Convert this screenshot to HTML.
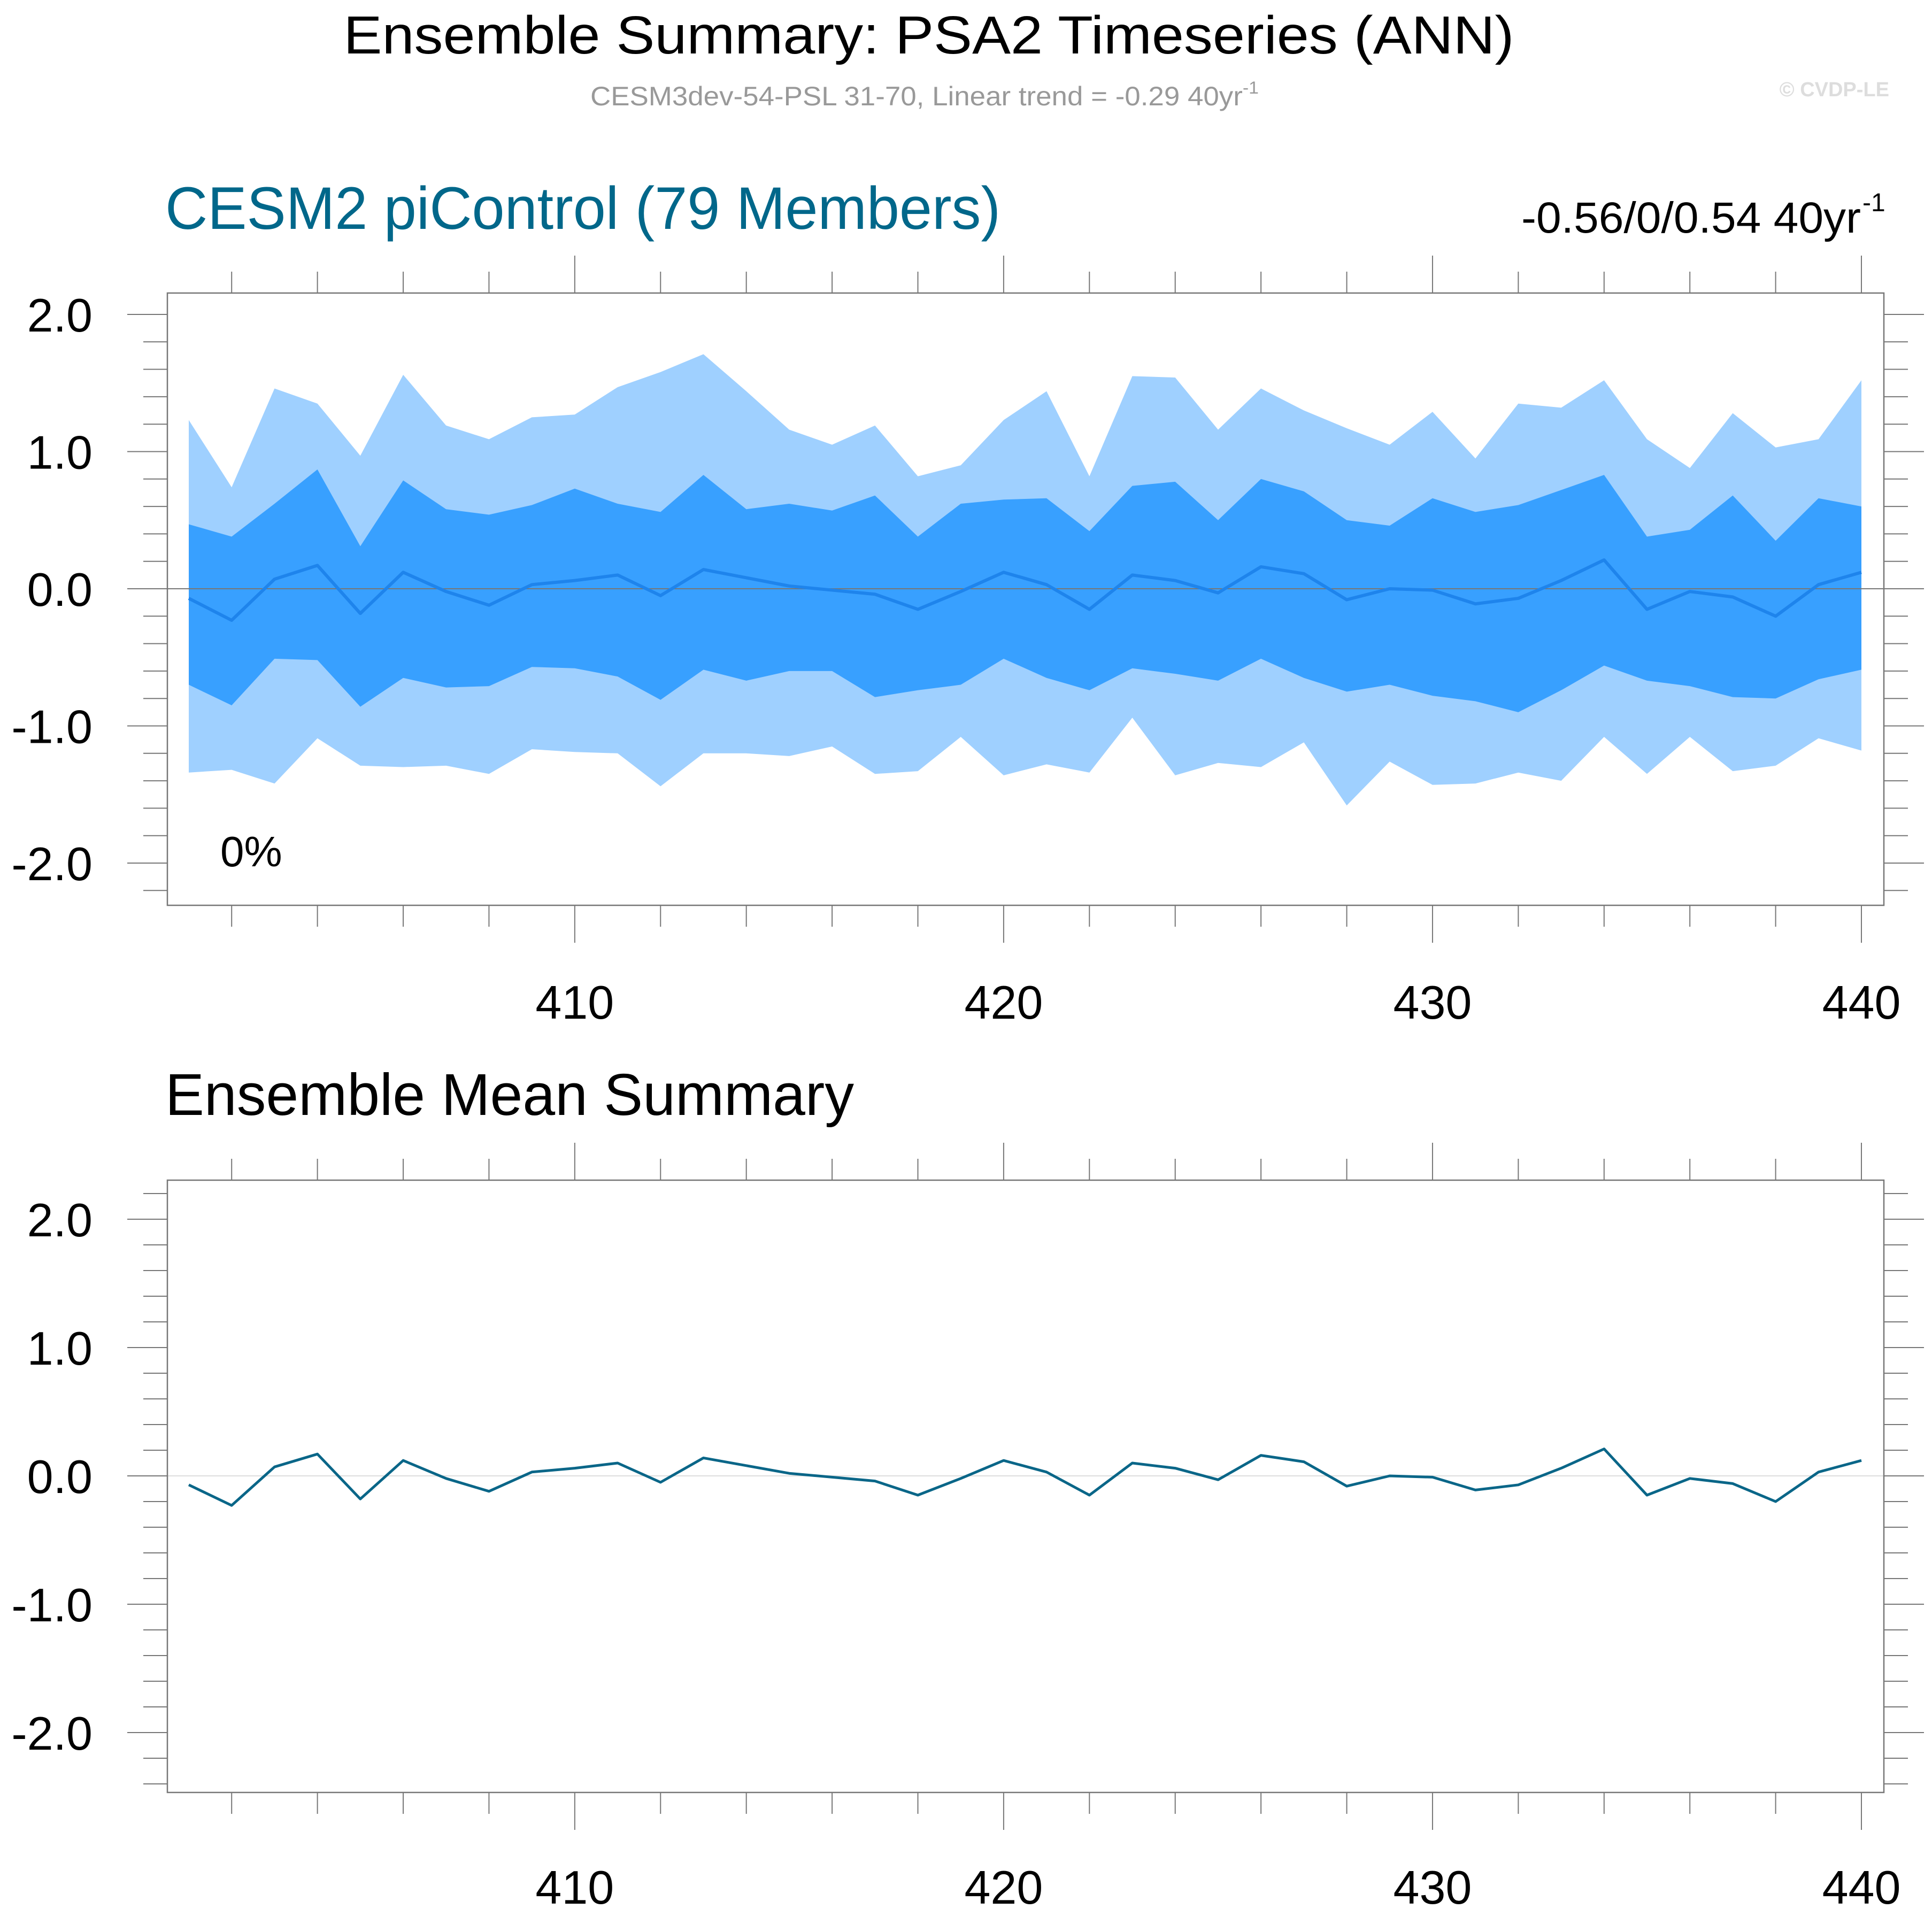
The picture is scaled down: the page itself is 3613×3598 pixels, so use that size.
<!DOCTYPE html>
<html><head><meta charset="utf-8"><style>html,body{margin:0;padding:0;background:#fff}svg{display:block}text{font-family:"Liberation Sans",sans-serif}</style></head>
<body>
<svg id="c" width="3613" height="3598" viewBox="0 0 3613 3598" xmlns="http://www.w3.org/2000/svg">
<text x="1737" y="100" font-size="100" text-anchor="middle" textLength="2189" lengthAdjust="spacingAndGlyphs">Ensemble Summary: PSA2 Timeseries (ANN)</text>
<text x="1104" y="197" font-size="50" fill="#999" textLength="1250" lengthAdjust="spacingAndGlyphs">CESM3dev-54-PSL 31-70, Linear trend = -0.29 40yr<tspan dy="-22" font-size="32">-1</tspan></text>
<text x="3533" y="180" font-size="38" font-weight="bold" fill="#ddd" text-anchor="end">© CVDP-LE</text>
<text x="309" y="428" font-size="112" fill="#00678a" textLength="1562" lengthAdjust="spacingAndGlyphs">CESM2 piControl (79 Members)</text>
<text x="3480" y="435" font-size="82" text-anchor="end" textLength="635" lengthAdjust="spacingAndGlyphs">-0.56/0/0.54 40yr</text>
<text x="3483" y="395" font-size="48">-1</text>
<text x="309" y="2085" font-size="110" textLength="1288" lengthAdjust="spacingAndGlyphs">Ensemble Mean Summary</text>
<g id="p1"></g>
<g id="p2"></g>
</svg>
<script>
const years = [];
for (let y = 401; y <= 440; y++) years.push(y);
const meanVals = [-0.07,-0.23,0.07,0.17,-0.18,0.12,-0.02,-0.12,0.03,0.06,0.10,-0.05,0.14,0.08,0.02,-0.01,-0.04,-0.15,-0.02,0.12,0.03,-0.15,0.10,0.06,-0.03,0.16,0.11,-0.08,0.0,-0.01,-0.11,-0.07,0.06,0.21,-0.15,-0.02,-0.06,-0.20,0.03,0.12];
const darkHi = [0.47,0.38,0.62,0.87,0.31,0.79,0.58,0.54,0.61,0.73,0.62,0.56,0.83,0.58,0.62,0.57,0.68,0.38,0.62,0.65,0.66,0.42,0.75,0.78,0.50,0.80,0.71,0.50,0.46,0.66,0.56,0.61,0.72,0.83,0.38,0.43,0.68,0.35,0.66,0.60];
const darkLo = [-0.70,-0.85,-0.51,-0.52,-0.86,-0.65,-0.72,-0.71,-0.57,-0.58,-0.64,-0.81,-0.59,-0.67,-0.60,-0.60,-0.79,-0.74,-0.70,-0.51,-0.65,-0.74,-0.58,-0.62,-0.67,-0.51,-0.65,-0.75,-0.70,-0.78,-0.82,-0.90,-0.74,-0.56,-0.67,-0.71,-0.79,-0.80,-0.66,-0.59];
const lightHi = [1.23,0.74,1.46,1.35,0.97,1.56,1.19,1.09,1.25,1.27,1.47,1.58,1.71,1.44,1.16,1.05,1.19,0.82,0.90,1.23,1.44,0.82,1.55,1.54,1.16,1.46,1.30,1.17,1.05,1.29,0.95,1.35,1.32,1.52,1.09,0.88,1.28,1.03,1.09,1.52];
const lightLo = [-1.34,-1.32,-1.42,-1.09,-1.29,-1.30,-1.29,-1.35,-1.17,-1.19,-1.20,-1.44,-1.20,-1.20,-1.22,-1.15,-1.35,-1.33,-1.08,-1.36,-1.28,-1.34,-0.94,-1.36,-1.27,-1.30,-1.12,-1.58,-1.26,-1.43,-1.42,-1.34,-1.40,-1.08,-1.35,-1.08,-1.33,-1.29,-1.09,-1.18];
const yTickVals = [-2, -1, 0, 1, 2];
const yTickLabels = ["-2.0", "-1.0", "0.0", "1.0", "2.0"];
const xTickVals = [410, 420, 430, 440];
const xTickLabels = ["410", "420", "430", "440"];

const NS = "http://www.w3.org/2000/svg";
function mk(parent, tag, attrs) {
  const e = document.createElementNS(NS, tag);
  for (const k in attrs) e.setAttribute(k, attrs[k]);
  parent.appendChild(e);
  return e;
}
const xs = v => 353 + (v - 401) * (3481 - 353) / 39;

function panel(g, top, bottom, y0, unit, xlabY, bands) {
  const ys = v => y0 - v * unit;
  const L = 313, R = 3523;
  const axis = "#777";
  if (bands) {
    const band = (hi, lo, col, name) => {
      let d = "M" + hi.map((v, i) => xs(years[i]) + "," + ys(v)).join("L");
      for (let i = lo.length - 1; i >= 0; i--) d += "L" + xs(years[i]) + "," + ys(lo[i]);
      const p = mk(g, "path", {d: d + "Z", fill: col});
      
      
    };
    band(lightHi, lightLo, "#9fd0ff", "band-outer");
    band(darkHi, darkLo, "#38a0ff", "band-inner");
  }
  const zl = mk(g, "line", {x1: L, x2: R, y1: ys(0), y2: ys(0), stroke: bands ? "#777" : "#ddd", "stroke-width": 2});
  
  
  const ml = mk(g, "polyline", {points: meanVals.map((v, i) => xs(years[i]) + "," + ys(v)).join(" "), fill: "none", stroke: bands ? "#1e84ec" : "#0a6688", "stroke-width": bands ? 6 : 5, "stroke-linejoin": "round"});
  
  
  const box = mk(g, "rect", {x: L, y: top, width: R - L, height: bottom - top, fill: "none", stroke: axis, "stroke-width": 2.5});
  
  
  for (let v = -24; v <= 24; v += 2) {
    const val = v / 10, y = ys(val);
    if (y < top || y > bottom) continue;
    const major = v % 10 === 0;
    const len = major ? 75 : 45;
    mk(g, "line", {x1: L - len, x2: L, y1: y, y2: y, stroke: axis, "stroke-width": 2});
    mk(g, "line", {x1: R, x2: R + len, y1: y, y2: y, stroke: axis, "stroke-width": 2});
  }
  yTickVals.forEach((v, i) => {
    const t = mk(g, "text", {x: 173, y: ys(v) + 32, "font-size": 88, "text-anchor": "end"});
    t.textContent = yTickLabels[i];
    
    
  });
  for (let yr = 402; yr <= 440; yr += 2) {
    const x = xs(yr), major = yr % 10 === 0;
    const len = major ? 70 : 40;
    mk(g, "line", {x1: x, x2: x, y1: top - len, y2: top, stroke: axis, "stroke-width": 2});
    mk(g, "line", {x1: x, x2: x, y1: bottom, y2: bottom + len, stroke: axis, "stroke-width": 2});
  }
  xTickVals.forEach((v, i) => {
    const t = mk(g, "text", {x: xs(v), y: xlabY, "font-size": 88, "text-anchor": "middle"});
    t.textContent = xTickLabels[i];
    
    
  });
}
panel(document.getElementById("p1"), 548, 1693, 1101, 256.5, 1905, true);
const pct = mk(document.getElementById("p1"), "text", {x: 412, y: 1620, "font-size": 80});
pct.textContent = "0%";


panel(document.getElementById("p2"), 2207, 3352, 2760, 240, 3560, false);
</script>
</body></html>
